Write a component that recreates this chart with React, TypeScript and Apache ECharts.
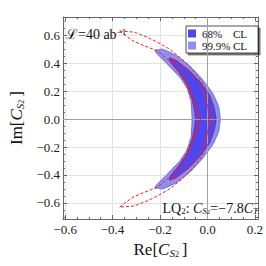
import React, { useEffect, useRef } from "react";
import * as echarts from "echarts";

// ---- axis ranges & ticks ----
const X_MIN = -0.609;
const X_MAX = 0.213;
const Y_MIN = -0.715;
const Y_MAX = 0.73;
const xMajorTicks = [-0.6, -0.4, -0.2, 0.0, 0.2];
const yMajorTicks = [-0.6, -0.4, -0.2, 0.0, 0.2, 0.4, 0.6];
const xMinorTicks = [-0.55, -0.5, -0.45, -0.35, -0.3, -0.25, -0.15, -0.1, -0.05, 0.05, 0.1, 0.15];
const yMinorTicks = [-0.7, -0.65, -0.55, -0.5, -0.45, -0.35, -0.3, -0.25, -0.15, -0.1, -0.05,
  0.05, 0.1, 0.15, 0.25, 0.3, 0.35, 0.45, 0.5, 0.55, 0.65, 0.7];

// ---- 99.9% CL region (closed outline) ----
const region999: [number, number][] = [
  [-0.222, 0.49], [-0.19, 0.5], [-0.133, 0.457], [-0.079, 0.386], [-0.025, 0.291], [0.022, 0.184],
  [0.047, 0.09], [0.054, 0], [0.047, -0.09], [0.022, -0.184], [-0.025, -0.291], [-0.079, -0.386],
  [-0.133, -0.457], [-0.19, -0.5], [-0.222, -0.49],
  [-0.212, -0.466], [-0.172, -0.398], [-0.118, -0.302], [-0.086, -0.219], [-0.069, -0.124], [-0.065, 0],
  [-0.069, 0.124], [-0.086, 0.219], [-0.118, 0.302], [-0.172, 0.398], [-0.212, 0.466],
];
// ---- 68% CL region (closed outline) ----
const region68: [number, number][] = [
  [-0.162, 0.433], [-0.133, 0.421], [-0.079, 0.35], [-0.032, 0.266], [0.009, 0.171], [0.029, 0.076],
  [0.036, 0], [0.029, -0.076], [0.009, -0.171], [-0.032, -0.266], [-0.079, -0.35], [-0.133, -0.421],
  [-0.162, -0.433],
  [-0.156, -0.409], [-0.118, -0.326], [-0.085, -0.243], [-0.065, -0.148], [-0.054, -0.052], [-0.051, 0],
  [-0.054, 0.052], [-0.065, 0.148], [-0.085, 0.243], [-0.118, 0.326], [-0.156, 0.409],
];
// ---- red curves ----
const redOuterRight: [number, number][] = [
  [-0.37, 0.63], [-0.31, 0.622], [-0.26, 0.59], [-0.213, 0.552], [-0.16, 0.5], [-0.111, 0.434],
  [-0.065, 0.36], [-0.025, 0.27], [0.005, 0.17], [0.022, 0.08], [0.028, 0], [0.022, -0.08],
  [0.005, -0.17], [-0.025, -0.27], [-0.065, -0.36], [-0.111, -0.434], [-0.16, -0.5], [-0.213, -0.552],
  [-0.26, -0.59], [-0.31, -0.622], [-0.37, -0.63],
];
const redOuterLeft: [number, number][] = [
  [-0.37, 0.63], [-0.34, 0.59], [-0.31, 0.555], [-0.26, 0.52], [-0.213, 0.49], [-0.17, 0.43],
  [-0.125, 0.345], [-0.092, 0.255], [-0.068, 0.155], [-0.052, 0.07], [-0.046, 0], [-0.052, -0.07],
  [-0.068, -0.155], [-0.092, -0.255], [-0.125, -0.345], [-0.17, -0.43], [-0.213, -0.49], [-0.26, -0.52],
  [-0.31, -0.555], [-0.34, -0.59], [-0.37, -0.63],
];
const redInnerRight: [number, number][] = [
  [-0.158, 0.44], [-0.12, 0.405], [-0.08, 0.345], [-0.04, 0.262], [-0.012, 0.17], [0.002, 0.08],
  [0.006, 0], [0.002, -0.08], [-0.012, -0.17], [-0.04, -0.262], [-0.08, -0.345], [-0.12, -0.405],
  [-0.158, -0.44],
];
const redInnerLeft: [number, number][] = [
  [-0.158, 0.44], [-0.135, 0.39], [-0.105, 0.32], [-0.078, 0.235], [-0.056, 0.14], [-0.036, 0.06],
  [-0.03, 0], [-0.036, -0.06], [-0.056, -0.14], [-0.078, -0.235], [-0.105, -0.32], [-0.135, -0.39],
  [-0.158, -0.44],
];

const legendNames = ["68% CL", "99.9% CL"];

const SERIF = "'Liberation Serif', 'DejaVu Serif', 'Times New Roman', serif";
const FRAME = "#666";
const GRID = "#e2e2e2";

const fmt = (v: number) => {
  const s = Math.abs(v) < 1e-9 ? "0.0" : v.toFixed(1);
  return s.replace("-", "\u2212");
};

const nameRich = {
  n: { fontFamily: SERIF, fontSize: 17, color: "#111", lineHeight: 18, verticalAlign: "middle" },
  c: { fontFamily: SERIF, fontSize: 17, fontStyle: "italic", color: "#111", lineHeight: 18, verticalAlign: "middle" },
  s: { fontFamily: SERIF, fontSize: 11, fontStyle: "italic", color: "#111", lineHeight: 9, verticalAlign: "bottom" },
  ss: { fontFamily: SERIF, fontSize: 8, color: "#111", lineHeight: 3, verticalAlign: "bottom" },
  sp: { fontFamily: SERIF, fontSize: 17, lineHeight: 18, width: 3 },
};

function makeX(position: "bottom" | "top", minor: boolean, main: boolean) {
  return {
    type: "value",
    min: X_MIN,
    max: X_MAX,
    position,
    axisLine: { show: !minor, onZero: false, lineStyle: { color: FRAME, width: 1 } },
    axisTick: {
      show: true,
      inside: true,
      length: minor ? 2 : 4,
      customValues: minor ? xMinorTicks : xMajorTicks,
      lineStyle: { color: FRAME, width: 1 },
    },
    axisLabel: main
      ? { show: true, customValues: xMajorTicks, formatter: fmt, fontFamily: SERIF, fontSize: 13, color: "#222", margin: 4 }
      : { show: false },
    splitLine: main ? { show: true, lineStyle: { color: GRID, width: 1 } } : { show: false },
    ...(main
      ? {
          name: "{n|Re[}{c|C}{s|S}{ss|2}{sp| }{n|]}",
          nameLocation: "middle",
          nameGap: 19,
          nameTextStyle: { rich: nameRich, align: "center" },
        }
      : {}),
  };
}

function makeY(position: "left" | "right", minor: boolean, main: boolean) {
  return {
    type: "value",
    min: Y_MIN,
    max: Y_MAX,
    position,
    axisLine: { show: !minor, onZero: false, lineStyle: { color: FRAME, width: 1 } },
    axisTick: {
      show: true,
      inside: true,
      length: minor ? 2 : 4,
      customValues: minor ? yMinorTicks : yMajorTicks,
      lineStyle: { color: FRAME, width: 1 },
    },
    axisLabel: main
      ? { show: true, customValues: yMajorTicks, formatter: fmt, fontFamily: SERIF, fontSize: 13, color: "#222", margin: 3 }
      : { show: false },
    splitLine: main ? { show: true, lineStyle: { color: GRID, width: 1 } } : { show: false },
    ...(main
      ? {
          name: "{n|Im[}{c|C}{s|S}{ss|2}{sp| }{n|]}",
          nameLocation: "middle",
          nameGap: 34,
          nameRotate: 90,
          nameTextStyle: { rich: nameRich, align: "center" },
        }
      : {}),
  };
}

function polygonSeries(name: string, pts: [number, number][], fill: string, stroke: string, z: number) {
  return {
    type: "custom",
    name,
    coordinateSystem: "cartesian2d",
    xAxisIndex: 0,
    yAxisIndex: 0,
    z,
    silent: true,
    itemStyle: { color: fill },
    data: [[pts[0][0], pts[0][1]]],
    renderItem: (_params: any, api: any) => ({
      type: "polygon",
      shape: { points: pts.map((p) => api.coord(p)), smooth: 0.1 },
      style: { fill, stroke, lineWidth: 0.8 },
    }),
  };
}

function redLine(pts: [number, number][], dashed: boolean) {
  return {
    type: "line",
    xAxisIndex: 0,
    yAxisIndex: 0,
    data: pts,
    smooth: false,
    showSymbol: false,
    symbol: "none",
    silent: true,
    z: 5,
    lineStyle: { color: "#ff1a1a", width: 1, type: dashed ? [3, 2] : "solid" },
  };
}

export default function App() {
  const ref = useRef<HTMLDivElement>(null);
  useEffect(() => {
    if (!ref.current) return;
    const chart = echarts.init(ref.current, null, { renderer: "svg" });
    chart.setOption({
      animation: false,
      backgroundColor: "#fff",
      grid: { left: 57, right: 6, top: 17, bottom: 47 },
      xAxis: [makeX("bottom", false, true), makeX("bottom", true, false), makeX("top", false, false), makeX("top", true, false)],
      yAxis: [makeY("left", false, true), makeY("left", true, false), makeY("right", false, false), makeY("right", true, false)],
      legend: {
        data: legendNames,
        left: 186,
        top: 26,
        orient: "vertical",
        icon: "rect",
        itemWidth: 8,
        itemHeight: 8,
        itemGap: 1,
        padding: [2, 11, 2, 2],
        backgroundColor: "#fff",
        borderColor: "#222",
        borderWidth: 0.8,
        borderRadius: 0,
        shadowColor: "rgba(0,0,0,0.55)",
        shadowBlur: 0,
        shadowOffsetX: 2,
        shadowOffsetY: 2,
        selectedMode: false,
        formatter: (name: string) => `{a|${name.split(" ")[0]}}{b|CL}`,
        textStyle: {
          fontFamily: SERIF,
          fontSize: 11,
          color: "#111",
          padding: [0, 0, 0, 1],
          rich: {
            a: { fontFamily: SERIF, fontSize: 11, color: "#111", width: 31, lineHeight: 11 },
            b: { fontFamily: SERIF, fontSize: 11, color: "#111", lineHeight: 11 },
          },
        },
      },
      graphic: [
        {
          type: "text",
          left: 66,
          top: 27,
          z: 20,
          style: {
            text: "{l|\u2112}{n|=40 ab}{sup|\u22121}",
            rich: {
              l: { fontFamily: SERIF, fontSize: 14, fill: "#111", lineHeight: 15, verticalAlign: "middle" },
              n: { fontFamily: SERIF, fontSize: 14, fill: "#111", lineHeight: 15, verticalAlign: "middle" },
              sup: { fontFamily: SERIF, fontSize: 9, fill: "#111", lineHeight: 8, verticalAlign: "top" },
            },
          },
        },
        {
          type: "text",
          right: 8,
          top: 201,
          z: 20,
          style: {
            text: "{n|LQ}{s|2}{n|: }{c|C}{si|S}{ss|2}{n|=\u22127.8}{c|C}{si|T}",
            rich: {
              n: { fontFamily: SERIF, fontSize: 14, fill: "#111", lineHeight: 15, verticalAlign: "middle" },
              c: { fontFamily: SERIF, fontSize: 14, fontStyle: "italic", fill: "#111", lineHeight: 15, verticalAlign: "middle" },
              s: { fontFamily: SERIF, fontSize: 9, fill: "#111", lineHeight: 8, verticalAlign: "bottom" },
              si: { fontFamily: SERIF, fontSize: 9, fontStyle: "italic", fill: "#111", lineHeight: 8, verticalAlign: "bottom" },
              ss: { fontFamily: SERIF, fontSize: 7, fill: "#111", lineHeight: 2, verticalAlign: "bottom" },
            },
          },
        },
      ],
      series: [
        polygonSeries(legendNames[1], region999, "#8e8ef4", "#5b5bc8", 2),
        polygonSeries(legendNames[0], region68, "#4848f6", "#3535b0", 3),
        redLine(redOuterRight, true),
        redLine(redOuterLeft, true),
        redLine(redInnerRight, false),
        redLine(redInnerLeft, false),
        {
          type: "line",
          xAxisIndex: 0,
          yAxisIndex: 0,
          data: [],
          silent: true,
          z: 6,
          markLine: {
            silent: true,
            symbol: "none",
            label: { show: false },
            lineStyle: { color: "#a0a0a0", width: 1, type: "solid" },
            data: [{ xAxis: 0 }, { yAxis: 0 }],
          },
        },
      ],
    });
    return () => chart.dispose();
  }, []);
  return <div ref={ref} style={{ position: "absolute", left: 0, top: 0, width: 266, height: 266 }} />;
}
